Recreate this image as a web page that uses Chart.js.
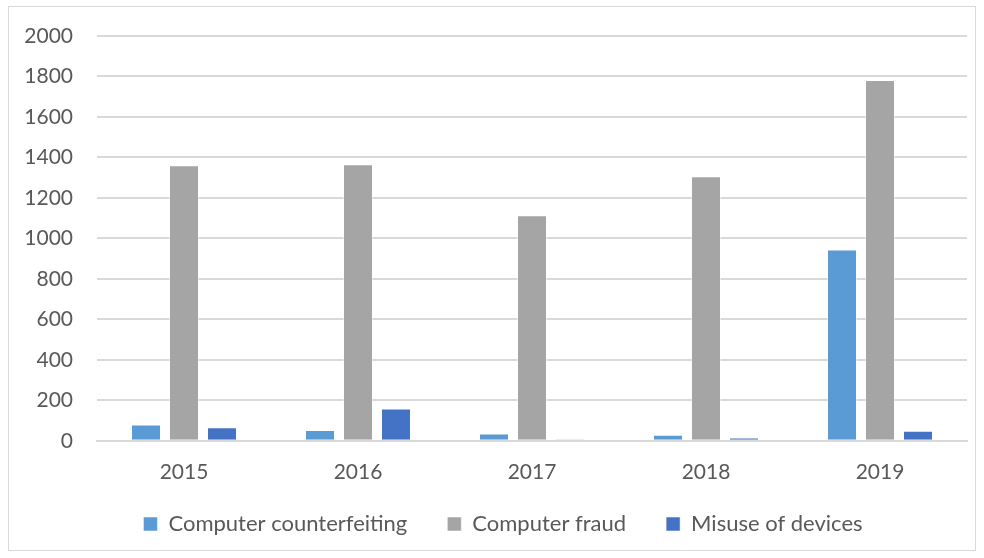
<!DOCTYPE html>
<html lang="en">
<head>
    <meta charset="UTF-8">
    <title>Computer crime 2015-2019</title>
    <script src="https://cdn.jsdelivr.net/npm/chart.js"></script>
    <style>
        body { margin: 0; background: #fff; }
        #box {
            position: absolute; left: 8px; top: 6px;
            width: 966px; height: 543px;
            border: 1px solid #d9d9d9;
        }
    </style>
</head>
<body>
    <div id="box"><canvas id="crimeChart"></canvas></div>
    <script>
        const years = ['2015', '2016', '2017', '2018', '2019'];
        const counterfeiting = [80, 53, 36, 30, 945];
        const fraud = [1361, 1366, 1114, 1307, 1782];
        const misuse = [67, 159, 8, 16, 50];
        const yTicks = [0, 200, 400, 600, 800, 1000, 1200, 1400, 1600, 1800, 2000];

        const txt = '#595959';
        const font = { family: 'Lato, "Open Sans", sans-serif', size: 21 };

        // legend padding is used both across and above the items;
        // take some of the space above back so the x labels sit close,
        // and nudge the legend right a bit like the original
        const LEGEND_TRIM = 23;
        const LEGEND_SHIFT = 15;
        const legendTrim = {
            id: 'legendTrim',
            afterInit(chart) {
                const lg = chart.legend;
                const fit = lg.fit;
                lg.fit = function () { fit.call(this); this.height -= LEGEND_TRIM; };
            },
            afterLayout(chart) {
                const lg = chart.legend;
                lg.top -= LEGEND_TRIM;
                lg.left += LEGEND_SHIFT;
                lg.right += LEGEND_SHIFT;
            }
        };

        function bar(label, data, color) {
            return {
                label: label,
                data: data,
                backgroundColor: color,
                borderColor: 'rgba(255,255,255,0.5)',
                borderWidth: 1,
                barPercentage: 0.79,
                categoryPercentage: 0.655
            };
        }

        new Chart(document.getElementById('crimeChart'), {
            type: 'bar',
            data: {
                labels: years,
                datasets: [
                    bar('Computer counterfeiting', counterfeiting, '#5b9bd5'),
                    bar('Computer fraud', fraud, '#a5a5a5'),
                    bar('Misuse of devices', misuse, '#4472c4')
                ]
            },
            plugins: [legendTrim],
            options: {
                responsive: true,
                maintainAspectRatio: false,
                animation: false,
                layout: { padding: { left: 0, right: 8, top: 29, bottom: 5 } },
                plugins: {
                    tooltip: { enabled: false },
                    legend: {
                        position: 'bottom',
                        labels: {
                            color: txt,
                            font: { family: font.family, size: 22 },
                            boxWidth: 14,
                            boxHeight: 14,
                            padding: 40
                        }
                    }
                },
                scales: {
                    x: {
                        grid: { display: false },
                        border: { color: '#d9d9d9', width: 2 },
                        ticks: { color: txt, font: font, padding: 11 }
                    },
                    y: {
                        min: 0,
                        max: 2000,
                        afterBuildTicks: axis => { axis.ticks = yTicks.map(v => ({ value: v })); },
                        afterFit: axis => {
                            axis.width = 88;
                            axis.paddingTop = 0;
                            axis.paddingBottom = 0;
                        },
                        grid: { color: '#d9d9d9', lineWidth: 2, drawTicks: false },
                        border: { display: false },
                        ticks: { color: txt, font: font, padding: 24, callback: v => String(v) }
                    }
                }
            }
        });
    </script>
</body>
</html>
